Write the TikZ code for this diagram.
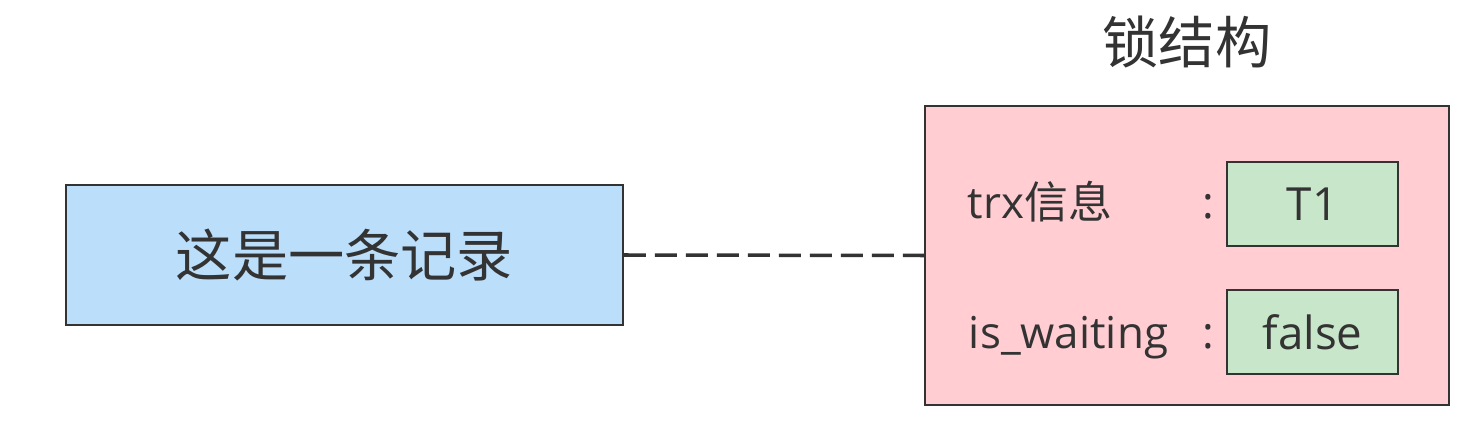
\documentclass[tikz,border=0pt]{standalone}
\usepackage{fontspec}
\setmainfont{Open Sans}
\newfontfamily\cjk{Noto Sans CJK SC}
\definecolor{recblue}{HTML}{BBDEFB}
\definecolor{lockpink}{HTML}{FFCDD2}
\definecolor{valgreen}{HTML}{C8E6C9}
\definecolor{ink}{HTML}{333333}
\begin{document}
\begin{tikzpicture}[x=.02cm,y=-.02cm,line width=1.1pt,
  box/.style={draw=ink,rectangle,inner sep=0pt,text=ink},
  lbl/.style={text=ink,inner sep=0pt,font=\fontsize{25}{30}\selectfont}]
\useasboundingbox (0,0) rectangle (1481,432);
% record and lock structure
\node[box,fill=recblue,minimum width=11.14cm,minimum height=2.8cm,font=\fontsize{32}{36}\selectfont\cjk] (rec) at (344.5,255){这是一条记录};
\node[box,fill=lockpink,minimum width=10.48cm,minimum height=5.98cm] (lock) at (1187,255.5){};
\node[lbl,font=\fontsize{32}{36}\selectfont\cjk] (title) at (1187,42){锁结构};
\draw[ink,line width=2pt,dash pattern=on .44cm off .18cm] (rec.east)--(lock.west);
% fields
\node[lbl,anchor=base west] (trx) at (967,219){trx{\cjk 信息}};\node[lbl,anchor=base] (c1) at (1208,219){:};
\node[lbl,anchor=base west] (wait) at (968,348){is\_waiting};\node[lbl,anchor=base] (c2) at (1208,348){:};
\node[box,fill=valgreen,minimum width=3.42cm,minimum height=1.68cm,font=\fontsize{26}{30}\selectfont] (t1) at (1312.5,204){T1};
\node[box,fill=valgreen,minimum width=3.42cm,minimum height=1.68cm,font=\fontsize{26}{30}\selectfont] (false) at (1312.5,332){false};
\end{tikzpicture}
\end{document}
